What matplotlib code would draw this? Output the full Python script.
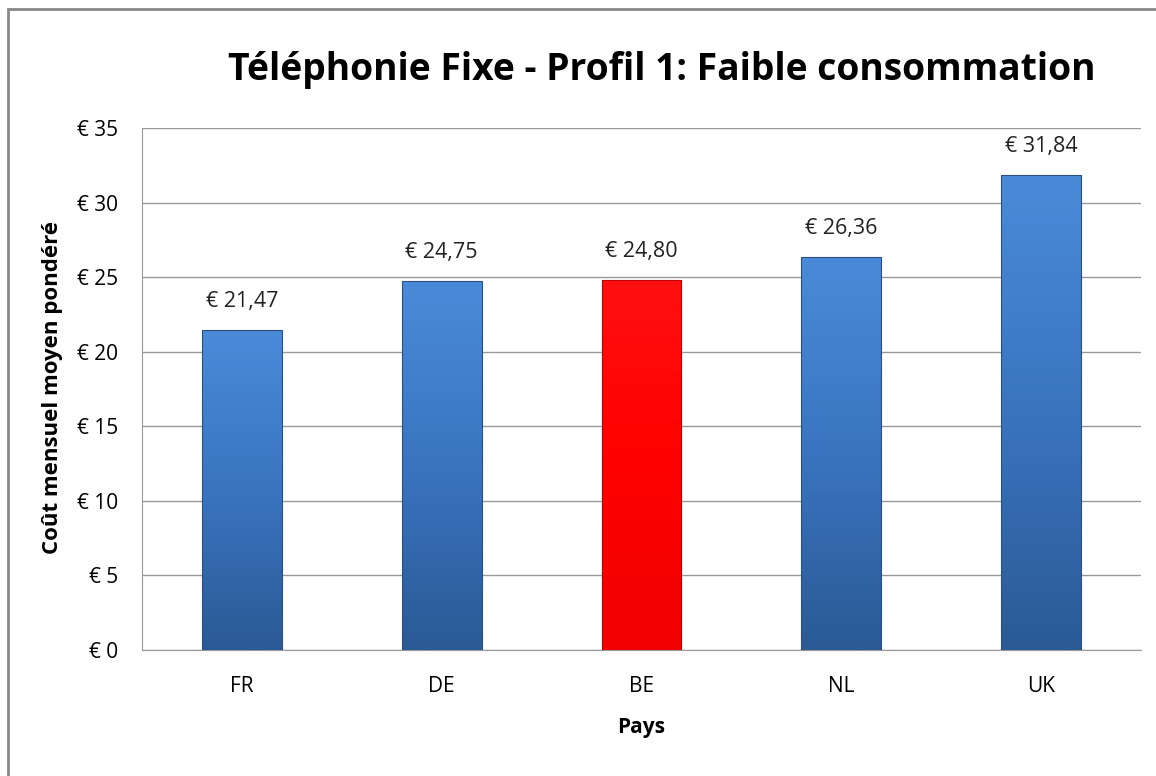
import matplotlib
matplotlib.use("Agg")
import matplotlib.pyplot as plt
import numpy as np
from matplotlib.patches import Rectangle
from matplotlib.colors import LinearSegmentedColormap

categories = ["FR", "DE", "BE", "NL", "UK"]
values = [21.47, 24.75, 24.80, 26.36, 31.84]
highlight = "BE"
yticks = [0, 5, 10, 15, 20, 25, 30, 35]

plt.rcParams['font.family'] = ['Open Sans', 'DejaVu Sans']

fig = plt.figure(figsize=(11.56, 7.76), dpi=100)
W, H = 1156, 776
ax = fig.add_axes([142 / W, 1 - 650 / H, (1141 - 142) / W, (650 - 128) / H])

x = np.arange(len(categories))
bars = ax.bar(x, values, width=0.4, color="none", edgecolor="none", zorder=3)

blue = LinearSegmentedColormap.from_list("b", ["#2b5a95", "#3a74c0", "#4a8bd9"])
red = LinearSegmentedColormap.from_list("r", ["#f00000", "#ff0000", "#ff1010"])
grad = np.linspace(0, 1, 256).reshape(-1, 1)
for cat, b in zip(categories, bars):
    x0, w, h = b.get_x(), b.get_width(), b.get_height()
    cmap = red if cat == highlight else blue
    im = ax.imshow(grad, extent=[x0, x0 + w, 0, h], origin="lower", cmap=cmap,
                   aspect="auto", zorder=3)
    im.set_clip_path(b)
    ax.add_patch(Rectangle((x0, 0), w, h, fill=False,
                           edgecolor="#2a4f80" if cat != highlight else "#c00000",
                           linewidth=0.8, zorder=4))
    ax.annotate(("€ %.2f" % h).replace(".", ","), (x0 + w / 2, h),
                xytext=(0, 16.5), textcoords="offset points", ha="center",
                va="baseline", fontsize=15.5, color="#222222")

ax.set_xlim(-0.5, len(categories) - 0.5)
ax.set_ylim(0, 35)
ax.set_yticks(yticks)
ax.set_yticklabels(["€ %d" % t for t in yticks], fontsize=15)
ax.set_xticks(x)
ax.set_xticklabels(categories, fontsize=15)
ax.tick_params(axis="y", length=0, pad=17)
ax.tick_params(axis="x", length=0, pad=19)
ax.yaxis.grid(True, color="#999999", linewidth=1.0, zorder=0)
ax.set_axisbelow(True)
for s in ["top", "right"]:
    ax.spines[s].set_visible(False)
ax.spines["left"].set_color("#999999")
ax.spines["bottom"].set_color("#999999")

fig.text(53 / W, 1 - 387 / H, "Coût mensuel moyen pondéré", rotation=90,
         ha="center", va="center", fontsize=16, fontweight="bold")
fig.text(641 / W, 1 - 728 / H, "Pays", ha="center", va="center",
         fontsize=15, fontweight="bold")
fig.text(662 / W, 1 - 80 / H, "Téléphonie Fixe - Profil 1: Faible consommation",
         ha="center", va="baseline", fontsize=26.8, fontweight="bold")

fig.patches.append(Rectangle((8 / W, -0.1), 1.2, 1 - 9 / H + 0.1,
                             transform=fig.transFigure, fill=False,
                             edgecolor="#888888", linewidth=2))

fig.savefig("out.png", dpi=100)
